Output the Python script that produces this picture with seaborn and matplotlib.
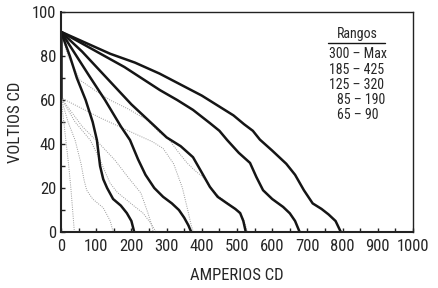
import matplotlib
matplotlib.use("Agg")
import matplotlib.pyplot as plt
from matplotlib import font_manager
import seaborn as sns

# Solid curves (one per range), amperes vs volts
s1_amp = [0, 70, 140, 210, 280, 340, 400, 450, 490, 520, 545, 565, 600, 640, 665, 690, 715, 740, 760, 780, 795]
s1_volt = [91, 86, 81, 77, 72, 67, 62, 57, 53, 49, 46, 42, 37, 31, 26, 19, 13, 10.5, 8, 5, 0]
s2_amp = [0, 90, 180, 281, 330, 375, 423, 450, 472, 505, 537, 555, 574, 600, 631, 650, 665, 678]
s2_volt = [91, 83, 75, 64.5, 60, 55.5, 49.5, 46, 41.8, 36, 31.4, 25, 19, 15, 11.4, 8.5, 5, 0]
s3_amp = [0, 60, 130, 200, 267, 300, 340, 375, 400, 423, 445, 472, 495, 509, 518, 525]
s3_volt = [91, 82, 70, 58, 48, 43, 39, 34, 27, 20.5, 16, 13, 10.5, 8.6, 5, 0]
s4_amp = [0, 40, 80, 125, 170, 196, 219, 240, 265, 290, 315, 335, 350, 362, 370]
s4_volt = [91, 81, 71, 60, 48, 41.8, 33, 26, 20, 16, 13, 10, 6.5, 3, 0]
s5_amp = [0, 25, 45, 70, 90, 102, 111, 120, 131, 148, 170, 187, 200, 208]
s5_volt = [91, 80, 70, 60, 50, 41.8, 30, 24, 20, 15, 12, 8.6, 5, 0]
s0_amp = [0, 0]
s0_volt = [91, 61]

# Dotted (gray) curves
d0_amp = [0, 20, 54, 100, 139, 190, 244, 281, 304, 330, 358, 380, 403, 423, 450, 475, 500, 518, 530]
d0_volt = [91, 80, 69, 64, 60, 56, 51, 45, 42.7, 37, 31.4, 28, 25, 20.5, 16, 13, 10, 6, 0]
d1_amp = [0, 8, 15, 22, 28, 33, 38]
d1_volt = [61, 50, 40, 30, 20, 10, 0]
d2_amp = [0, 20, 40, 57, 65, 73, 90, 120, 140, 148]
d2_volt = [61, 50, 41.8, 31, 24, 19, 15, 11, 5, 0]
d3_amp = [0, 40, 83, 111, 139, 160, 187, 210, 233, 255, 270]
d3_volt = [61, 50, 41.8, 32.7, 22.3, 18, 14.5, 11.5, 8.6, 4, 0]
d4_amp = [0, 110, 219, 260, 290, 320, 345, 360, 370, 376]
d4_volt = [61, 52, 44, 41, 38, 31, 20, 10, 3, 0]
d5_amp = [0, 60, 110, 153, 190, 227, 247, 258, 262]
d5_volt = [61, 48, 40, 32.7, 25, 17.7, 8.6, 3, 0]

ranges = ["300 – Max", "185 – 425", "125 – 320", "85 – 190", "65 – 90"]

solid = [(s1_amp, s1_volt), (s2_amp, s2_volt), (s3_amp, s3_volt),
         (s4_amp, s4_volt), (s5_amp, s5_volt), (s0_amp, s0_volt)]
dotted = [(d0_amp, d0_volt), (d1_amp, d1_volt), (d2_amp, d2_volt),
          (d3_amp, d3_volt), (d4_amp, d4_volt), (d5_amp, d5_volt)]

sns.set_style("ticks")
names = {f.name for f in font_manager.fontManager.ttflist}
narrow = [n for n in ["Liberation Sans Narrow", "Roboto Condensed", "Open Sans Condensed"] if n in names]
if narrow:
    plt.rcParams['font.family'] = [narrow[0], 'Liberation Sans', 'DejaVu Sans']
    big, small = 12, 10
else:
    plt.rcParams['font.family'] = ['Liberation Sans', 'DejaVu Sans']
    big, small = 11, 9

fig = plt.figure(figsize=(4.38, 2.88), dpi=100)
ax = fig.add_axes([61 / 438, 56 / 288, 352 / 438, 220 / 288])

for amp, volt in dotted:
    sns.lineplot(x=amp, y=volt, sort=False, estimator=None, ax=ax,
                 color="#9a9a9a", linewidth=0.7, linestyle=(0, (1, 1.3)))
for amp, volt in solid:
    sns.lineplot(x=amp, y=volt, sort=False, estimator=None, ax=ax,
                 color="#151515", linewidth=1.8)

ax.set_xlim(0, 1000)
ax.set_ylim(0, 100)
ax.set_xticks(range(0, 1001, 100))
ax.set_xticks(range(0, 1001, 50), minor=True)
ax.set_yticks(range(0, 101, 20))
ax.set_yticks(range(0, 101, 10), minor=True)
ax.tick_params(which="both", direction="in", length=3, width=1, labelsize=big,
               color="#222222")
ax.tick_params(axis="x", pad=5)
for side in ["left", "bottom"]:
    ax.spines[side].set_linewidth(1.5)
for side in ["top", "right"]:
    ax.spines[side].set_linewidth(1.0)
for sp in ax.spines.values():
    sp.set_color("#222222")

ax.set_xlabel("AMPERIOS CD", fontsize=big, labelpad=10)
ax.set_ylabel("VOLTIOS CD", fontsize=big, labelpad=6)

# Ranges legend
ax.text(841, 90, "Rangos", ha="center", va="center", fontsize=small)
ax.plot([758, 920], [86, 86], color="#151515", linewidth=1.0)
label_x = [761, 761, 761, 784, 784]
label_y = [81, 73.6, 66.8, 60, 53]
for lx, ly, txt in zip(label_x, label_y, ranges):
    ax.text(lx, ly, txt, ha="left", va="center", fontsize=small)

plt.savefig("out.png", dpi=100)
